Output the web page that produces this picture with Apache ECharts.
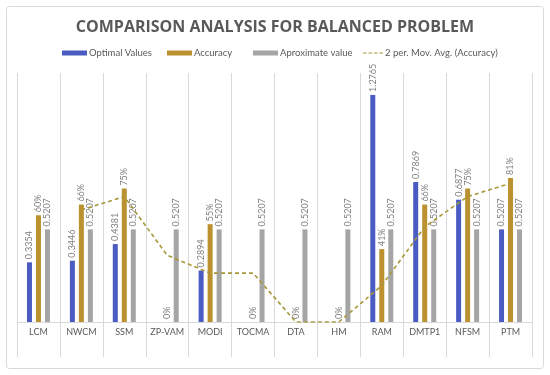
<!DOCTYPE html>
<html>
<head>
<meta charset="utf-8">
<script src="https://cdn.jsdelivr.net/npm/echarts@6/dist/echarts.min.js"></script>
<style>
html,body{margin:0;padding:0;background:#fff;}
#c{width:550px;height:375px;}
</style>
</head>
<body>
<div id="c"></div>
<script>
const categories = ['LCM','NWCM','SSM','ZP-VAM','MODI','TOCMA','DTA','HM','RAM','DMTP1','NFSM','PTM'];
const optimalValues = [0.3354,0.3446,0.4381,null,0.2894,null,null,null,1.2765,0.7869,0.6877,0.5207];
const accuracy = [0.60,0.66,0.75,0,0.55,0,0,0,0.41,0.66,0.75,0.81];
const approximateValue = [0.5207,0.5207,0.5207,0.5207,0.5207,0.5207,0.5207,0.5207,0.5207,0.5207,0.5207,0.5207];
const movingAvg = [null,0.63,0.705,0.375,0.275,0.275,0,0,0.205,0.535,0.705,0.78];

const FONT = 'Lato';
const labelCommon = {
  show: true, position: 'top', rotate: 90, align: 'left', verticalAlign: 'middle',
  distance: 3, fontSize: 9, color: '#7F7F7F', fontFamily: FONT
};
const legendCommon = {
  top: 43, itemWidth: 25, itemHeight: 5, icon: 'rect',
  textStyle: { fontSize: 9.5, color: '#595959', fontFamily: FONT, padding: [0,0,0,-3] }
};

const chart = echarts.init(document.getElementById('c'), null, {renderer: 'canvas'});
chart.setOption({
  animation: false,
  backgroundColor: '#fff',
  title: {
    text: 'COMPARISON ANALYSIS FOR BALANCED PROBLEM',
    left: 'center', top: 14,
    textStyle: { fontFamily: 'Open Sans', fontWeight: 'bold', fontSize: 16, color: '#595959' }
  },
  graphic: [{
    type: 'rect', silent: true, z: -1,
    shape: { x: 6.5, y: 6.5, width: 537, height: 362, r: 3 },
    style: { fill: 'none', stroke: '#D9D9D9', lineWidth: 1 }
  }],
  legend: [
    Object.assign({}, legendCommon, { left: 57, data: ['Optimal Values'] }),
    Object.assign({}, legendCommon, { left: 162, data: ['Accuracy'] }),
    Object.assign({}, legendCommon, { left: 248, data: ['Aproximate value'] }),
    Object.assign({}, legendCommon, { left: 358, itemWidth: 20, icon: null, data: [{name: '2 per. Mov. Avg. (Accuracy)', icon: 'path://M0,0L4,0L4,1L0,1ZM6,0L10,0L10,1L6,1ZM12,0L16,0L16,1L12,1ZM18,0L22,0L22,1L18,1Z'}], itemHeight: 2 })
  ],
  grid: { left: 17, right: 18, top: 73, bottom: 53 },
  xAxis: {
    type: 'category', data: categories, boundaryGap: true,
    axisLine: { lineStyle: { color: '#D9D9D9' } },
    axisTick: { show: true, length: 35, interval: 0, lineStyle: { color: '#D9D9D9' } },
    splitLine: { show: true, interval: 0, lineStyle: { color: '#D9D9D9' } },
    axisLabel: { interval: 0, margin: 6, fontSize: 9, color: '#595959', fontFamily: FONT }
  },
  yAxis: { type: 'value', min: 0, max: 1.4, show: false, splitLine: { show: false } },
  series: [
    {
      name: 'Optimal Values', type: 'bar', data: optimalValues, barWidth: 5, barGap: '80%',
      itemStyle: { color: '#4A5BC2' },
      label: Object.assign({}, labelCommon, { formatter: p => p.value.toFixed(4) })
    },
    {
      name: 'Accuracy', type: 'bar', data: accuracy, barWidth: 5, barGap: '80%',
      itemStyle: { color: '#BC912F' },
      label: Object.assign({}, labelCommon, { formatter: p => Math.round(p.value * 100) + '%' })
    },
    {
      name: 'Aproximate value', type: 'bar', data: approximateValue, barWidth: 5, barGap: '80%',
      itemStyle: { color: '#A5A5A5' },
      label: Object.assign({}, labelCommon, { formatter: p => p.value.toFixed(4) })
    },
    {
      name: '2 per. Mov. Avg. (Accuracy)', type: 'line', data: movingAvg,
      symbol: 'none', showSymbol: false, connectNulls: false, z: 5,
      itemStyle: { color: '#A8983A' },
      lineStyle: { color: '#A8983A', width: 1.6, type: [4, 3] }
    }
  ]
});
</script>
</body>
</html>
